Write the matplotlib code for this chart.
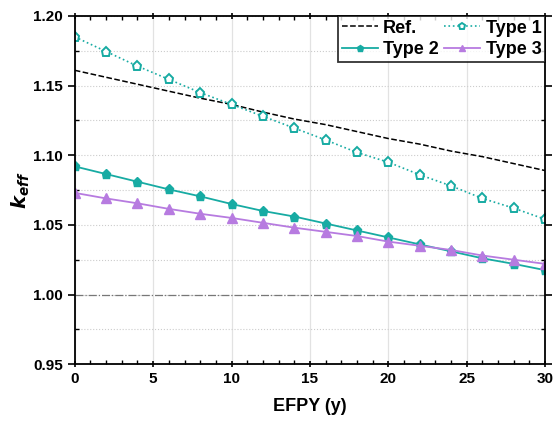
import numpy as np
import matplotlib.pyplot as plt
from matplotlib.ticker import MultipleLocator

plt.rcParams['font.family'] = ['Liberation Sans', 'DejaVu Sans']
plt.rcParams['font.weight'] = 'bold'

# EFPY points (y)
efpy = [0, 2, 4, 6, 8, 10, 12, 14, 16, 18, 20, 22, 24, 26, 28, 30]

# k_eff values
k_ref = [1.161, 1.156, 1.151, 1.146, 1.141, 1.1365, 1.131, 1.126, 1.122,
         1.117, 1.112, 1.108, 1.103, 1.099, 1.094, 1.089]
k_type1 = [1.185, 1.1745, 1.164, 1.1545, 1.145, 1.1365, 1.128, 1.1195, 1.111,
           1.102, 1.095, 1.086, 1.078, 1.069, 1.062, 1.054]
k_type2 = [1.092, 1.0865, 1.081, 1.0755, 1.0705, 1.065, 1.060, 1.056, 1.051,
           1.046, 1.041, 1.036, 1.031, 1.026, 1.022, 1.0175]
k_type3 = [1.073, 1.069, 1.0655, 1.0615, 1.058, 1.055, 1.0515, 1.048, 1.045,
           1.042, 1.038, 1.035, 1.032, 1.028, 1.025, 1.022]

teal = '#17aba3'
purple = '#b77be0'

fig = plt.figure(figsize=(5.58, 4.21), dpi=100)
ax = fig.add_axes([0.134, 0.135, 0.843, 0.827])

# reference level k=1
ax.axhline(1.0, color='#777777', lw=0.9, ls='-.', zorder=1)

h_ref, = ax.plot(efpy, k_ref, color='black', ls='--', lw=1.1, label='Ref.')
h1, = ax.plot(efpy, k_type1, color=teal, ls=':', lw=1.2, marker='p', ms=6.5,
              mfc='white', mec=teal, mew=1.4, label='Type 1')
h2, = ax.plot(efpy, k_type2, color=teal, ls='-', lw=1.3, marker='p', ms=6.5,
              mfc=teal, mec=teal, label='Type 2')
h3, = ax.plot(efpy, k_type3, color=purple, ls='-', lw=1.3, marker='^', ms=6.5,
              mfc=purple, mec=purple, label='Type 3')

ax.set_xlim(0, 30)
ax.set_ylim(0.95, 1.20)
ax.xaxis.set_major_locator(MultipleLocator(5))
ax.xaxis.set_minor_locator(MultipleLocator(1))
ax.yaxis.set_major_locator(MultipleLocator(0.05))
ax.yaxis.set_minor_locator(MultipleLocator(0.025))
ax.yaxis.set_major_formatter(plt.FormatStrFormatter('%.2f'))

ax.grid(which='major', axis='x', color='#e2e2e2', lw=0.9)
ax.grid(which='both', axis='y', color='#cccccc', lw=0.8, ls=':')
ax.set_axisbelow(True)

ax.tick_params(which='major', direction='in', length=5, width=1.2,
               top=True, right=True, labelsize=11)
ax.tick_params(which='minor', direction='in', length=3, width=1.0,
               top=True, right=True)
ax.tick_params(axis='x', which='major', top=True, direction='inout')
ax.tick_params(axis='y', which='major', direction='out', left=True)
for s in ax.spines.values():
    s.set_linewidth(1.3)

ax.set_xlabel('EFPY (y)', fontsize=13, fontweight='bold', labelpad=8)
ax.set_ylabel(r'$\mathbfit{k}_{\mathbfit{eff}}$', fontsize=14, labelpad=1)

# column-major order so rows read: Ref., Type 1 / Type 2, Type 3
leg = ax.legend([h_ref, h2, h1, h3], ['Ref.', 'Type 2', 'Type 1', 'Type 3'],
                ncol=2, loc='upper right', fontsize=13, frameon=True,
                fancybox=False, edgecolor='black', borderaxespad=0,
                handlelength=2.0, columnspacing=0.3, handletextpad=0.3,
                borderpad=0.2, labelspacing=0.25, markerscale=0.75)
leg.get_frame().set_linewidth(1.3)
for t in leg.get_texts():
    t.set_fontweight('bold')

fig.savefig('out.png', dpi=100)
